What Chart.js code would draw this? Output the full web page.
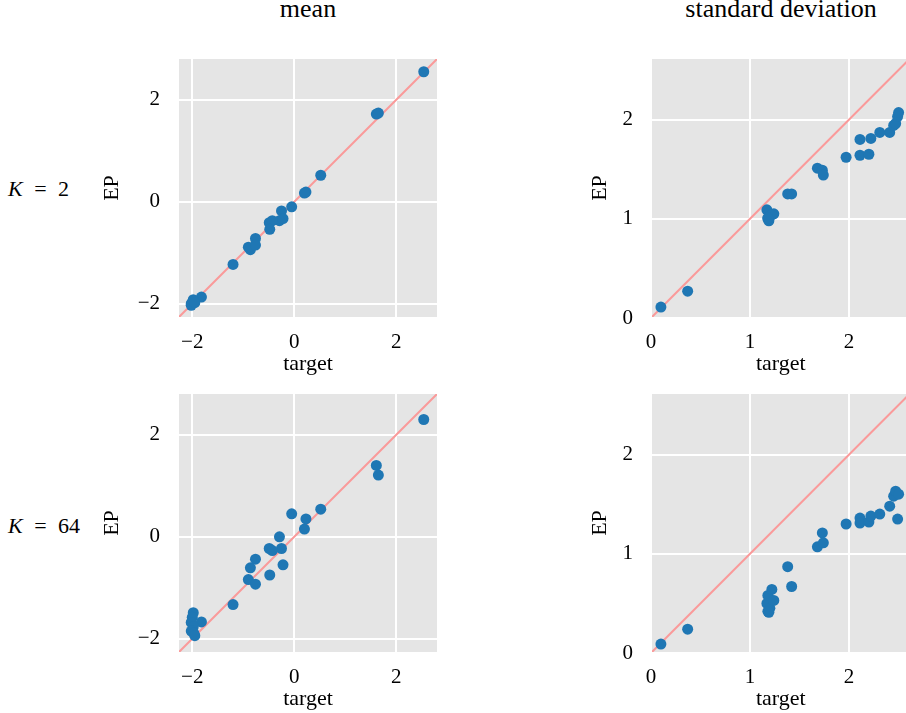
<!DOCTYPE html>
<html>
<head>
<meta charset="utf-8">
<script src="https://cdn.jsdelivr.net/npm/chart.js@4.4.1/dist/chart.umd.min.js"></script>
<style>
  html, body { margin: 0; padding: 0; background: #fff; overflow: hidden; }
  body { width: 906px; height: 713px; position: relative; font-family: 'Liberation Serif', serif; color: #000; }
  canvas { position: absolute; }
  .lbl { position: absolute; white-space: nowrap; line-height: 1; }
  .col { font-size: 26px; text-align: center; width: 300px; top: -4px; }
  .row { font-size: 22px; left: 8px; word-spacing: 6px; }
</style>
</head>
<body>
<div class="lbl col" style="left: 158px;">mean</div>
<div class="lbl col" style="left: 631px;">standard deviation</div>
<div class="lbl row" style="top: 178px;"><i>K</i> = 2</div>
<div class="lbl row" style="top: 515px;"><i>K</i> = 64</div>

<canvas id="cTL" width="453" height="345" style="left:0;top:40px;"></canvas>
<canvas id="cTR" width="375" height="345" style="left:540px;top:40px;"></canvas>
<canvas id="cBL" width="453" height="345" style="left:0;top:375px;"></canvas>
<canvas id="cBR" width="375" height="345" style="left:540px;top:375px;"></canvas>

<script>
// mean: target vs EP estimate
const meanTarget = [2.54, 1.61, 1.65, 0.52, 0.23, 0.20, -0.05, -0.29, -0.25, -0.49, -0.43, -0.22, -0.48,
  -0.76, -0.86, -0.90, -0.76, -1.20, -1.98, -2.00, -1.82, -2.02, -1.98, -2.02, -1.97, -1.95];
const meanEpK2 = [2.55, 1.72, 1.74, 0.52, 0.19, 0.17, -0.10, -0.37, -0.18, -0.41, -0.37, -0.33, -0.54,
  -0.72, -0.94, -0.89, -0.85, -1.23, -1.95, -1.98, -1.87, -2.00, -1.92, -2.03, -1.95, -1.98];
const meanEpK64 = [2.30, 1.40, 1.21, 0.54, 0.35, 0.15, 0.45, 0.00, -0.23, -0.23, -0.27, -0.55, -0.75,
  -0.44, -0.61, -0.84, -0.93, -1.33, -1.49, -1.58, -1.67, -1.68, -1.76, -1.85, -1.89, -1.94];

// standard deviation: target vs EP estimate
const stdTarget = [0.10, 0.37, 1.17, 1.18, 1.20, 1.24, 1.19, 1.22, 1.18, 1.38, 1.42, 1.68, 1.73,
  1.74, 1.97, 2.11, 2.11, 2.20, 2.22, 2.31, 2.41, 2.45, 2.47, 2.49, 2.50];
const stdEpK2 = [0.11, 0.27, 1.09, 1.00, 1.03, 1.05, 0.98, 1.04, 1.01, 1.25, 1.25, 1.51, 1.49,
  1.44, 1.62, 1.80, 1.64, 1.65, 1.81, 1.87, 1.87, 1.94, 1.96, 2.03, 2.07];
const stdEpK64 = [0.09, 0.24, 0.50, 0.58, 0.45, 0.53, 0.41, 0.64, 0.42, 0.87, 0.67, 1.07, 1.21,
  1.11, 1.30, 1.36, 1.31, 1.32, 1.38, 1.40, 1.48, 1.58, 1.63, 1.35, 1.60];

const meanLimits = [-2.26, 2.8];
const stdLimits = [0.01, 2.61];
const meanTicks = [-2, 0, 2];
const stdTicks = [0, 1, 2];

const FONT = 'Liberation Serif';

function pts(xs, ys) {
  return xs.map((x, i) => ({ x: x, y: ys[i] }));
}

function fmt(v) {
  return v < 0 ? '\u2212' + Math.abs(v) : String(v);
}

// grey panel behind the grid
const plotBg = {
  id: 'plotBg',
  beforeDraw(chart) {
    const a = chart.chartArea, ctx = chart.ctx;
    ctx.save();
    ctx.fillStyle = '#e5e5e5';
    ctx.fillRect(a.left, a.top, a.right - a.left, a.bottom - a.top);
    ctx.restore();
  }
};

function axis(title, lim, ticks, isX, size) {
  return {
    type: 'linear',
    min: lim[0],
    max: lim[1],
    afterBuildTicks: s => { s.ticks = ticks.map(v => ({ value: v })); },
    afterFit: s => {
      // fixed axis size, no extra room for edge labels
      if (isX) s.height = size; else s.width = size;
      s.paddingTop = 0; s.paddingBottom = 0; s.paddingLeft = 0; s.paddingRight = 0;
    },
    grid: { color: '#ffffff', lineWidth: 2, drawTicks: false },
    border: { display: false },
    ticks: {
      font: { family: FONT, size: 21 },
      color: '#000',
      padding: isX ? 13 : 19,
      maxRotation: 0,
      callback: v => fmt(v)
    },
    title: {
      display: true,
      text: title,
      font: { family: FONT, size: 22 },
      color: '#000',
      padding: isX ? { top: 0, bottom: 0 } : { top: 4, bottom: 0 }
    }
  };
}

function makePanel(id, xs, ys, lim, ticks, padLeft, padRight, yAxisW) {
  new Chart(document.getElementById(id), {
    type: 'scatter',
    data: {
      datasets: [
        { data: pts(xs, ys), backgroundColor: '#1f77b4', pointRadius: 5.5, borderWidth: 0 },
        {
          data: [{ x: lim[0], y: lim[0] }, { x: lim[1], y: lim[1] }],
          showLine: true, borderColor: '#fa9a9a', borderWidth: 2, pointRadius: 0
        }
      ]
    },
    options: {
      responsive: false,
      animation: false,
      layout: { padding: { left: padLeft, right: padRight, top: 19, bottom: 8 } },
      plugins: { legend: { display: false }, tooltip: { enabled: false } },
      scales: {
        x: axis('target', lim, ticks, true, 60),
        y: axis('EP', lim, ticks, false, yAxisW)
      }
    },
    plugins: [plotBg]
  });
}

makePanel('cTL', meanTarget, meanEpK2, meanLimits, meanTicks, 95, 16, 84);
makePanel('cTR', stdTarget, stdEpK2, stdLimits, stdTicks, 43, 5, 69);
makePanel('cBL', meanTarget, meanEpK64, meanLimits, meanTicks, 95, 16, 84);
makePanel('cBR', stdTarget, stdEpK64, stdLimits, stdTicks, 43, 5, 69);
</script>
</body>
</html>
